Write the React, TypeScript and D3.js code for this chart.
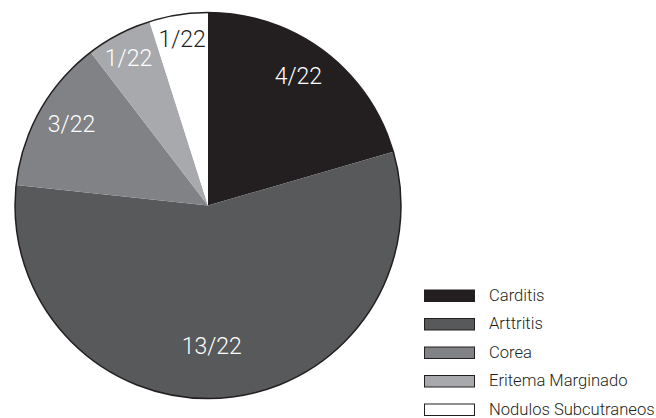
import React from "react";
import * as d3 from "d3";

// Data
const categories = ["Carditis", "Arttritis", "Corea", "Eritema Marginado", "Nodulos Subcutraneos"];
const counts = [4, 13, 3, 1, 1];
const total = 22;
// Slice shares (percent of the circle) as drawn in the picture
const sliceShares = [20.5, 56.2, 12.9, 5.5, 4.9];
const colors = ["#231f20", "#58595b", "#808285", "#a7a9ac", "#ffffff"];
const labelColors = ["#ffffff", "#ffffff", "#ffffff", "#ffffff", "#231f20"];

// Layout
const W = 656;
const H = 418;
const cx = 208;
const cy = 205.5;
const R = 193;
const labelRadius = [158, 141, 159, 168, 169];
const labelAngleNudge = [-2, 3.5, 1.5, -0.7, 0];
const legendX = 424;
const legendY = 289.5;
const legendStep = 28.5;
const swW = 51;
const swH = 12.5;

export default function App() {
  const items = categories.map((c, i) => ({ name: c, share: sliceShares[i], count: counts[i], i }));
  const pie = d3.pie<any>().value((d) => d.share).sort(null).startAngle(0).endAngle(2 * Math.PI);
  const arcs = pie(items);
  const arc = d3.arc<any>().innerRadius(0).outerRadius(R);
  const font = "Roboto, 'Liberation Sans', Arial, sans-serif";

  return (
    <svg width={W} height={H} style={{ position: "absolute", left: 0, top: 0, background: "#fff" }}>
      <g transform={`translate(${cx},${cy})`}>
        {arcs.map((a, i) => (
          <path key={i} d={arc(a) as string} fill={colors[i]} stroke="none" />
        ))}
        <circle r={R} fill="none" stroke="#231f20" strokeWidth={1.5} />
        {arcs.map((a, i) => {
          const mid = (a.startAngle + a.endAngle) / 2 + (labelAngleNudge[i] * Math.PI) / 180;
          const r = labelRadius[i];
          const x = r * Math.sin(mid);
          const y = -r * Math.cos(mid);
          return (
            <text
              key={"l" + i}
              x={x}
              y={y + 8}
              textAnchor="middle"
              fontFamily={font}
              fontWeight={300}
              fontSize={23}
              fill={labelColors[i]}
            >
              {`${a.data.count}/${total}`}
            </text>
          );
        })}
      </g>
      <g>
        {categories.map((c, i) => (
          <g key={c} transform={`translate(${legendX},${legendY + i * legendStep})`}>
            <rect x={0.5} y={0.5} width={swW - 1} height={swH - 1} fill={colors[i]} stroke="#231f20" strokeWidth={1} />
            <text x={65} y={swH - 1.5} fontFamily={font} fontWeight={300} fontSize={16.6} fill="#231f20">
              {c}
            </text>
          </g>
        ))}
      </g>
    </svg>
  );
}
